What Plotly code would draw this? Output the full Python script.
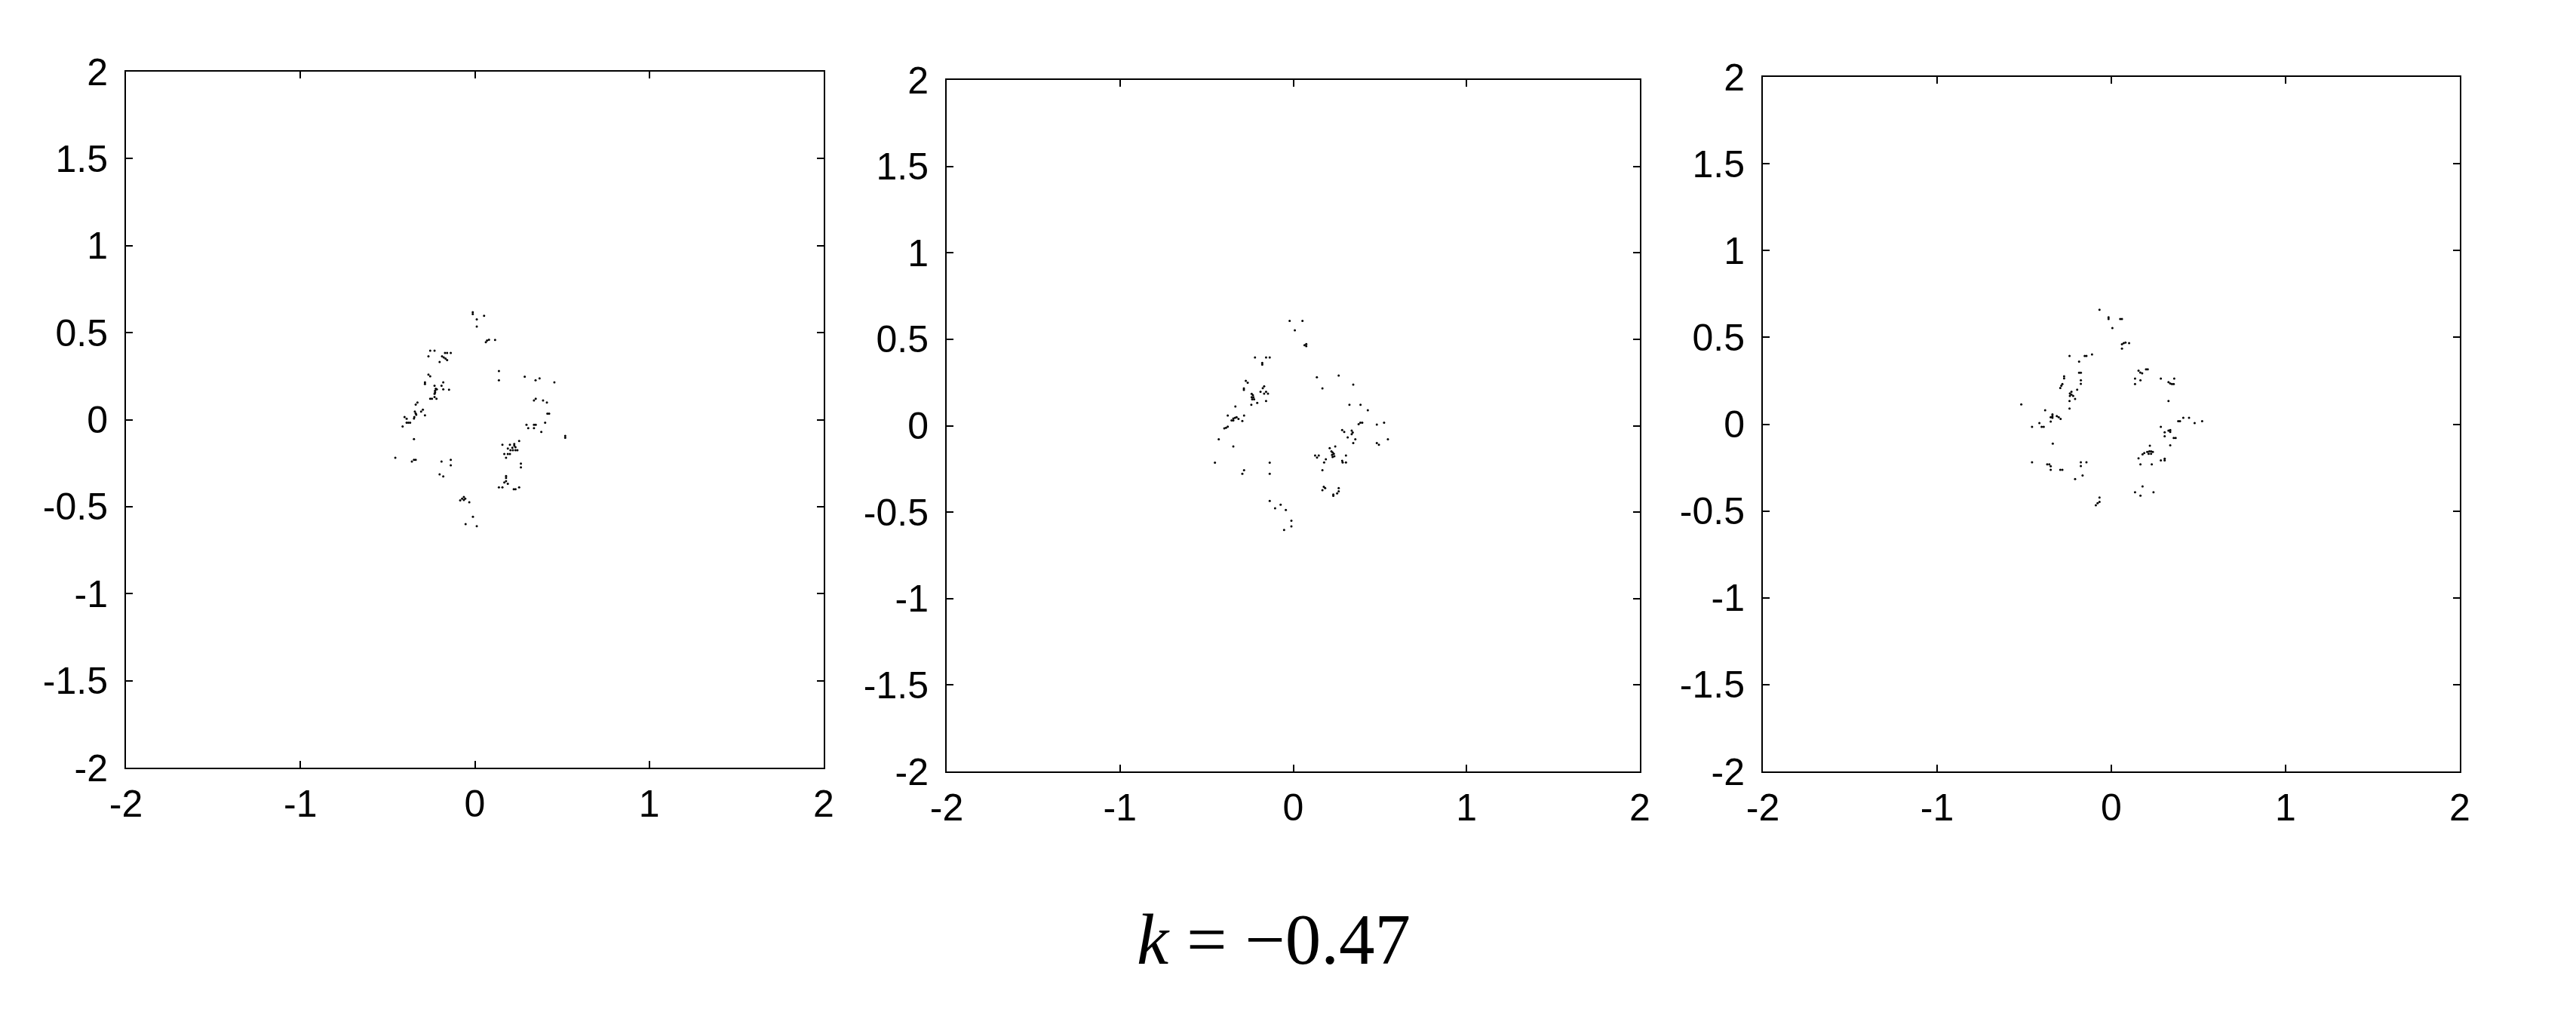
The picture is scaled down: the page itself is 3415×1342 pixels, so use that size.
import plotly.graph_objects as go
from plotly.subplots import make_subplots

# panel 1
x1 = [-0.012, -0.012, 0.053, 0.011, 0.011, 0.063, 0.070, 0.081, 0.116, -0.256,
      -0.231, -0.266, -0.171, -0.159, -0.138, -0.188, -0.178, -0.168, -0.159, -0.202,
      0.138, 0.138, 0.286, 0.348, 0.371, 0.456, -0.266, -0.256, -0.286, -0.286,
      -0.181, -0.231, -0.191, -0.224, -0.228, -0.218, -0.228, -0.231, -0.181, -0.148,
      -0.256, -0.246, -0.231, -0.220, -0.339, -0.329, 0.339, 0.349, 0.391, 0.413,
      -0.308, -0.298, -0.344, -0.339, -0.336, -0.347, -0.349, -0.286, -0.403, -0.391,
      -0.391, -0.381, -0.371, -0.414, 0.416, 0.426, 0.296, 0.306, 0.339, 0.349,
      0.339, 0.403, 0.381, 0.518, 0.518, -0.349, 0.254, 0.158, 0.201, 0.226,
      0.226, 0.233, 0.215, 0.189, 0.204, 0.218, 0.233, 0.244, 0.169, 0.189,
      0.201, 0.179, -0.456, -0.361, -0.349, -0.339, -0.191, -0.138, -0.138, 0.264,
      0.264, -0.202, -0.181, 0.179, 0.179, 0.169, 0.179, 0.189, 0.138, 0.158,
      0.223, 0.233, 0.254, -0.063, -0.073, -0.055, -0.084, -0.063, -0.032, -0.011,
      -0.053, 0.011]
y1 = [0.618, 0.607, 0.597, 0.576, 0.535, 0.445, 0.455, 0.459, 0.458, 0.396,
      0.396, 0.364, 0.384, 0.384, 0.384, 0.364, 0.358, 0.351, 0.342, 0.332,
      0.279, 0.226, 0.247, 0.226, 0.237, 0.215, 0.259, 0.249, 0.215, 0.205,
      0.215, 0.195, 0.195, 0.178, 0.166, 0.174, 0.156, 0.148, 0.174, 0.172,
      0.120, 0.120, 0.130, 0.120, 0.087, 0.099, 0.110, 0.120, 0.110, 0.099,
      0.047, 0.057, 0.047, 0.036, 0.028, 0.015, 0.006, 0.025, 0.015, 0.005,
      -0.017, -0.017, -0.017, -0.039, 0.035, 0.035, -0.029, -0.049, -0.029, -0.029,
      -0.049, -0.017, -0.070, -0.093, -0.104, -0.112, -0.122, -0.144, -0.144, -0.140,
      -0.150, -0.158, -0.161, -0.166, -0.176, -0.176, -0.176, -0.176, -0.197, -0.197,
      -0.197, -0.219, -0.219, -0.241, -0.231, -0.231, -0.241, -0.231, -0.262, -0.252,
      -0.274, -0.314, -0.326, -0.324, -0.335, -0.361, -0.353, -0.368, -0.389, -0.389,
      -0.400, -0.400, -0.389, -0.444, -0.454, -0.454, -0.464, -0.462, -0.475, -0.558,
      -0.600, -0.612]

# panel 2
x2 = [-0.021, 0.053, 0.009, 0.065, 0.075, 0.075, -0.221, -0.157, -0.136, -0.179,
      -0.179, 0.136, 0.262, 0.168, 0.346, -0.274, -0.263, -0.285, -0.285, -0.168,
      -0.176, -0.189, -0.157, -0.146, -0.168, -0.240, -0.233, -0.240, -0.230, -0.237,
      -0.226, -0.157, -0.242, -0.208, 0.324, 0.388, 0.430, -0.334, -0.378, -0.284,
      -0.346, -0.336, -0.327, -0.356, -0.346, -0.316, -0.294, -0.398, -0.388, -0.378,
      0.377, 0.387, 0.398, 0.482, 0.524, 0.282, 0.294, 0.337, 0.343, 0.337,
      0.314, 0.358, 0.346, -0.430, 0.546, 0.482, 0.494, -0.346, 0.210, 0.242,
      0.220, 0.227, 0.234, 0.224, 0.237, 0.227, 0.126, 0.137, 0.147, 0.188,
      0.178, 0.304, 0.282, 0.285, 0.304, -0.452, -0.136, 0.168, -0.284, -0.294,
      -0.136, 0.176, 0.184, 0.168, 0.262, 0.253, 0.262, 0.231, 0.231, -0.136,
      -0.105, -0.073, -0.043, -0.011, -0.011, -0.053]
y2 = [0.606, 0.606, 0.552, 0.466, 0.472, 0.460, 0.395, 0.395, 0.395, 0.363,
      0.353, 0.280, 0.290, 0.216, 0.238, 0.260, 0.249, 0.216, 0.207, 0.228,
      0.217, 0.196, 0.196, 0.185, 0.185, 0.184, 0.177, 0.165, 0.165, 0.153,
      0.153, 0.143, 0.121, 0.132, 0.121, 0.121, 0.089, 0.111, 0.059, 0.059,
      0.041, 0.046, 0.049, 0.030, 0.030, 0.039, 0.027, -0.015, -0.012, -0.005,
      0.009, 0.017, 0.017, 0.007, 0.017, -0.025, -0.036, -0.028, -0.039, -0.049,
      -0.068, -0.079, -0.100, -0.078, -0.078, -0.100, -0.110, -0.120, -0.130, -0.120,
      -0.148, -0.155, -0.162, -0.169, -0.177, -0.181, -0.172, -0.184, -0.172, -0.194,
      -0.213, -0.172, -0.203, -0.213, -0.213, -0.214, -0.214, -0.257, -0.257, -0.278,
      -0.278, -0.353, -0.361, -0.373, -0.361, -0.392, -0.380, -0.398, -0.406, -0.435,
      -0.478, -0.457, -0.488, -0.550, -0.582, -0.603]

# panel 3
x3 = [-0.068, -0.016, -0.016, 0.051, 0.061, 0.006, 0.061, 0.071, 0.081, 0.061,
      0.102, -0.240, -0.153, -0.143, -0.111, -0.185, 0.156, 0.166, 0.177, 0.199,
      0.209, -0.271, -0.271, -0.185, -0.175, 0.136, 0.167, 0.136, 0.284, 0.361,
      0.328, 0.338, 0.348, 0.358, -0.175, -0.175, -0.281, -0.287, -0.293, -0.196,
      -0.229, -0.238, -0.229, -0.238, -0.219, -0.208, -0.240, 0.328, -0.240, -0.517,
      -0.380, -0.338, -0.338, -0.348, -0.338, -0.313, -0.302, -0.291, -0.348, -0.413,
      -0.455, -0.400, -0.388, 0.384, 0.394, 0.413, 0.446, 0.478, 0.521, 0.284,
      0.306, 0.306, 0.328, 0.338, 0.338, 0.358, 0.369, 0.338, -0.336, 0.221,
      0.189, 0.179, 0.206, 0.218, 0.228, 0.238, 0.214, 0.228, 0.156, 0.167,
      0.232, 0.284, 0.306, 0.306, -0.455, -0.368, -0.356, -0.348, -0.348, -0.293,
      -0.281, -0.175, -0.143, -0.175, -0.165, -0.208, 0.179, 0.136, 0.167, 0.242,
      -0.068, -0.068, -0.079, -0.089]
y3 = [0.659, 0.616, 0.606, 0.606, 0.606, 0.554, 0.460, 0.467, 0.470, 0.435,
      0.467, 0.393, 0.393, 0.393, 0.402, 0.360, 0.308, 0.298, 0.293, 0.316,
      0.316, 0.276, 0.264, 0.296, 0.296, 0.263, 0.253, 0.231, 0.263, 0.263,
      0.242, 0.234, 0.231, 0.231, 0.253, 0.232, 0.231, 0.221, 0.209, 0.199,
      0.187, 0.177, 0.170, 0.163, 0.163, 0.145, 0.134, 0.134, 0.090, 0.114,
      0.080, 0.057, 0.047, 0.040, 0.037, 0.047, 0.040, 0.030, 0.015, 0.007,
      -0.015, -0.015, -0.015, 0.017, 0.017, 0.037, 0.037, 0.007, 0.017, -0.015,
      -0.047, -0.069, -0.037, -0.034, -0.044, -0.079, -0.079, -0.122, -0.112, -0.124,
      -0.166, -0.174, -0.160, -0.156, -0.156, -0.160, -0.170, -0.170, -0.196, -0.231,
      -0.231, -0.209, -0.199, -0.209, -0.219, -0.231, -0.231, -0.242, -0.263, -0.263,
      -0.263, -0.219, -0.219, -0.241, -0.295, -0.316, -0.358, -0.392, -0.412, -0.392,
      -0.422, -0.447, -0.455, -0.467]

x_ticks = [-2, -1, 0, 1, 2]
x_labels = ["-2", "-1", "0", "1", "2"]
y_ticks = [-2, -1.5, -1, -0.5, 0, 0.5, 1, 1.5, 2]
y_labels = ["-2", "-1.5", "-1", "-0.5", "0", "0.5", "1", "1.5", "2"]

# page body has an 8px margin, so the figure is drawn a bit smaller and offset
OFF = 8
W, H = 3415 - 2 * OFF, 1342 - 2 * OFF
# plot boxes in screen pixels: left, right, top, bottom
boxes = [(167, 1092, 95, 1018), (1255, 2174, 106, 1023), (2337, 3261, 102, 1023)]


def px_x(p):
    return (p - OFF) / W


def px_y(p):
    return 1 - (p - OFF) / H


fig = make_subplots(rows=1, cols=3)
for i, (xs, ys) in enumerate([(x1, y1), (x2, y2), (x3, y3)], start=1):
    fig.add_trace(
        go.Scatter(x=xs, y=ys, mode="markers",
                   marker=dict(size=3, color="black", line=dict(width=0)),
                   showlegend=False, hoverinfo="skip"),
        row=1, col=i,
    )

axis_style = dict(
    showline=True, linecolor="black", linewidth=2, mirror="ticks",
    ticks="inside", ticklen=9, tickwidth=2, tickcolor="black",
    showgrid=False, zeroline=False, automargin=False,
    tickfont=dict(family="Liberation Sans, Arial", size=50, color="black"),
)

for i, (l, r, t, b) in enumerate(boxes, start=1):
    sfx = "" if i == 1 else str(i)
    fig.update_layout(**{
        "xaxis" + sfx: dict(axis_style, domain=[px_x(l), px_x(r)], range=[-2, 2],
                            tickvals=x_ticks, ticktext=x_labels, ticklabelstandoff=3),
        "yaxis" + sfx: dict(axis_style, domain=[px_y(b), px_y(t)], range=[-2, 2],
                            tickvals=y_ticks, ticktext=y_labels, ticklabelstandoff=12),
    })

fig.add_annotation(
    text="<i>k</i>&nbsp;=&nbsp;−0.47", x=px_x(1688), y=px_y(1246),
    xref="paper", yref="paper", showarrow=False, xanchor="center", yanchor="middle",
    font=dict(family="Liberation Serif, Times New Roman", size=95, color="black"),
)

fig.update_layout(
    width=W, height=H,
    margin=dict(l=0, r=0, t=0, b=0),
    paper_bgcolor="white", plot_bgcolor="white",
)

fig.write_html("out.html")
